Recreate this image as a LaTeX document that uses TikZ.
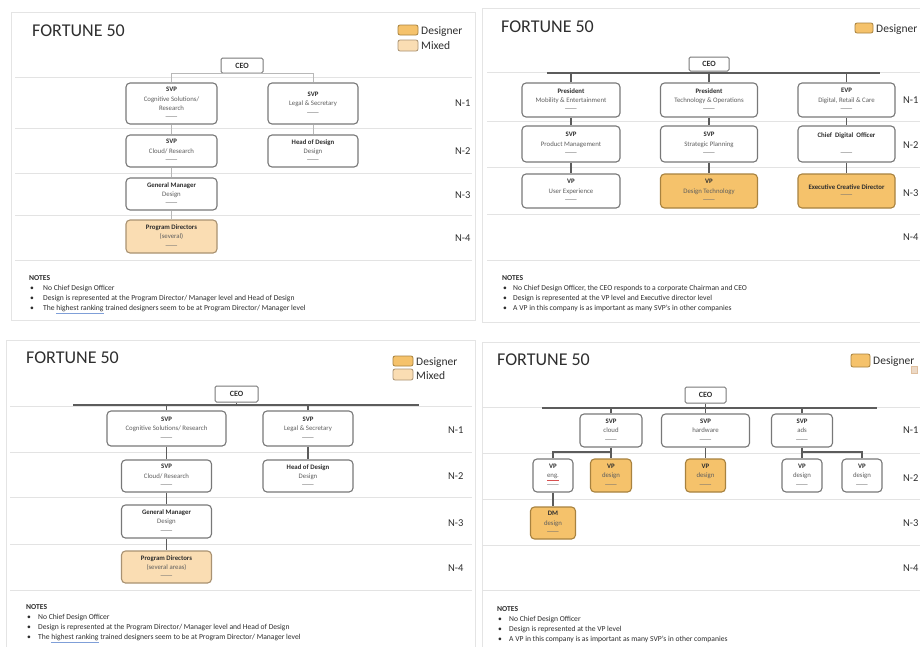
\documentclass[tikz,border=0pt]{standalone}
\usepackage{fontspec}
\usepackage{graphicx}
\setmainfont{Carlito}
\definecolor{des}{HTML}{F5C26B}
\definecolor{desb}{HTML}{A8823F}
\definecolor{mix}{HTML}{FADDB3}
\definecolor{mixb}{HTML}{A99272}
\definecolor{boxb}{HTML}{787878}
\definecolor{sepc}{HTML}{E3E3E3}
\definecolor{frm}{HTML}{E4E4E4}
\definecolor{conc}{HTML}{5C5C5C}
\definecolor{sub}{HTML}{5E5E5E}
\definecolor{phc}{HTML}{707070}
\definecolor{ulb}{HTML}{7F9FD8}
\definecolor{ulr}{HTML}{D85050}
\definecolor{txt}{HTML}{2E2E2E}
\newcommand\ph{{\color{phc}\scalebox{2.3}[1.2]{—}}}
\newcommand\sbt[1]{{\color{sub}#1}}
\newcommand\notesblk[7]{%
  \node[notes] (#1n0) at (#2,#3) {\textbf{NOTES}};
  \node[notes] (#1n1) at (#2+1,#3+10) {\makebox[#7pt][l]{•}#4};
  \node[notes] (#1n2) at (#2+1,#3+20) {\makebox[#7pt][l]{•}#5};
  \node[notes] (#1n3) at (#2+1,#3+30) {\makebox[#7pt][l]{•}#6};
}
\tikzset{
  box/.style={draw=boxb, line width=1.1pt, rounded corners=4pt, fill=white, align=center,
    font=\fontsize{6.8}{9.3}\selectfont, text=txt, inner sep=1pt},
  desbox/.style={box, fill=des, draw=desb},
  mixbox/.style={box, fill=mix, draw=mixb},
  ceo/.style={draw=boxb, line width=1pt, rounded corners=1.5pt, fill=white,
    font=\fontsize{8}{9}\selectfont\bfseries, text=txt, inner sep=0pt},
  seprule/.style={draw=sepc, line width=0.8pt},
  panelframe/.style={draw=frm, line width=0.8pt},
  conn/.style={draw=conc, line width=1.6pt},
  conthin/.style={draw=conc, line width=1.2pt},
  lconn/.style={draw=black!28, line width=0.8pt},
  ttl/.style={font=\fontsize{18}{20}\selectfont, anchor=west, inner sep=0pt, text=txt},
  lvl/.style={font=\fontsize{10.5}{12}\selectfont, anchor=west, inner sep=0pt, text=txt},
  legtxt/.style={font=\fontsize{11.5}{13}\selectfont, anchor=base west, inner sep=0pt, text=txt},
  legdes/.style={draw=desb, fill=des, rounded corners=2pt, line width=0.8pt},
  legmix/.style={draw=mixb, fill=mix, rounded corners=2pt, line width=0.8pt},
  notes/.style={font=\fontsize{7.6}{9}\selectfont, anchor=base west, inner sep=0pt, text=txt},
}
\begin{document}
\begin{tikzpicture}[x=1pt,y=-1pt]
\useasboundingbox (0,0) rectangle (920,646);
\fill[white] (0,0) rectangle (920,646);

%% ================= PANEL 1 (top left) =================
\draw[panelframe] (11,12) rectangle (475,320);
\node[ttl] (p1t) at (32,31) {FORTUNE 50};
\draw[legdes] (398,25) rectangle (418,35);
\node[legtxt] (p1l1) at (421,34) {Designer};
\draw[legmix] (398,40) rectangle (418,51);
\node[legtxt] (p1l2) at (421,49) {Mixed};
\foreach \yy in {77,128,173,215,260} \draw[seprule] (15,\yy) -- (472,\yy);
\node[ceo, minimum width=42pt, minimum height=15pt] (p1ceo) at (242,65.5) {CEO};
\node[box, minimum width=91pt, minimum height=41pt] (p1a) at (171.5,103.5) {\textbf{SVP}\\\sbt{Cognitive Solutions/}\\\sbt{Research}\\\ph};
\node[box, minimum width=90pt, minimum height=41pt] (p1b) at (313,103.5) {\textbf{SVP}\\\sbt{Legal \& Secretary}\\\ph};
\node[box, minimum width=91pt, minimum height=32pt] (p1c) at (171.5,151) {\textbf{SVP}\\\sbt{Cloud/ Research}\\\ph};
\node[box, minimum width=90pt, minimum height=32pt] (p1d) at (313,151) {\textbf{Head of Design}\\\sbt{Design}\\\ph};
\node[box, minimum width=91pt, minimum height=32pt] (p1e) at (171.5,194) {\textbf{General Manager}\\\sbt{Design}\\\ph};
\node[mixbox, minimum width=91pt, minimum height=33pt] (p1f) at (171.5,236.5) {\textbf{Program Directors}\\\sbt{(several)}\\\ph};
\draw[lconn] (p1a.north) |- (p1ceo.south) -| (p1b.north);
\draw[lconn] (p1a) -- (p1c);
\draw[lconn] (p1b) -- (p1d);
\draw[lconn] (p1c) -- (p1e);
\draw[lconn] (p1e) -- (p1f);
\node[lvl] (p1n1) at (455,103) {N-1};
\node[lvl] (p1n2) at (455,151) {N-2};
\node[lvl] (p1n3) at (455,195) {N-3};
\node[lvl] (p1n4) at (455,238) {N-4};
\notesblk{p1}{29}{280.5}{No Chief Design Officer}{Design is represented at the Program Director/ Manager level and Head of Design}{The {\color{ulb}\underline{\color{txt}highest ranking}} trained designers seem to be at Program Director/ Manager level}{13}

%% ================= PANEL 2 (top right) =================
\draw[panelframe] (482,8) rectangle (935,322);
\node[ttl] (p2t) at (501,27) {FORTUNE 50};
\draw[legdes] (855,23) rectangle (873,33);
\node[legtxt] (p2l1) at (876,32) {Designer};
\foreach \yy in {72,121,167,214,260} \draw[seprule] (487,\yy) -- (930,\yy);
\node[ceo, minimum width=40pt, minimum height=14pt] (p2ceo) at (709,64) {CEO};
\coordinate (p2l) at (547,73);
\coordinate (p2r) at (880,73);
\node[box, minimum width=98pt, minimum height=34pt] (p2a) at (571,100) {\textbf{President}\\\sbt{Mobility \& Entertainment}\\\ph};
\node[box, minimum width=97pt, minimum height=34pt] (p2b) at (709,100) {\textbf{President}\\\sbt{Technology \& Operations}\\\ph};
\node[box, minimum width=97pt, minimum height=34pt] (p2c) at (846.5,100) {\textbf{EVP}\\\sbt{Digital, Retail \& Care}\\\ph};
\node[box, minimum width=98pt, minimum height=36pt] (p2d) at (571,144) {\textbf{SVP}\\\sbt{Product Management}\\\ph};
\node[box, minimum width=97pt, minimum height=36pt] (p2e) at (709,144) {\textbf{SVP}\\\sbt{Strategic Planning}\\\ph};
\node[box, minimum width=97pt, minimum height=36pt] (p2f) at (846.5,144) {\textbf{Chief\ \ Digital\ \ Officer}\\[9.3pt]\ph};
\node[box, minimum width=98pt, minimum height=34pt] (p2g) at (571,191) {\textbf{VP}\\\sbt{User Experience}\\\ph};
\node[desbox, minimum width=97pt, minimum height=34pt] (p2h) at (709,191) {\textbf{VP}\\\sbt{Design Technology}\\\ph};
\node[desbox, minimum width=97pt, minimum height=34pt] (p2i) at (846.5,191) {\textbf{Executive Creative Director}\\[-1pt]\ph};
\draw[conn] (p2l) -- (p2r);
\draw[conn] (p2ceo.south) -- (p2ceo.south |- p2l);
\draw[conn] (p2a.north) -- (p2a.north |- p2l);
\draw[conn] (p2b.north) -- (p2b.north |- p2l);
\draw[conn] (p2c.north) -- (p2c.north |- p2l);
\draw[conn] (p2a) -- (p2d);
\draw[conn] (p2d) -- (p2g);
\draw[conn] (p2b) -- (p2e);
\draw[conn] (p2e) -- (p2h);
\draw[conn] (p2c) -- (p2f);
\draw[conn] (p2f) -- (p2i);
\node[lvl] (p2n1) at (903,100) {N-1};
\node[lvl] (p2n2) at (903,145) {N-2};
\node[lvl] (p2n3) at (903,193) {N-3};
\node[lvl] (p2n4) at (903,237) {N-4};
\notesblk{p2}{502}{280.5}{No Chief Design Officer, the CEO responds to a corporate Chairman and CEO}{Design is represented at the VP level and Executive director level}{A VP in this company is as important as many SVP’s in other companies}{10}

%% ================= PANEL 3 (bottom left) =================
\draw[panelframe] (6,340) rectangle (475,652);
\node[ttl] (p3t) at (26,358) {FORTUNE 50};
\draw[legdes] (393,356) rectangle (413,366);
\node[legtxt] (p3l1) at (416,365) {Designer};
\draw[legmix] (393,369) rectangle (413,380);
\node[legtxt] (p3l2) at (416,379) {Mixed};
\foreach \yy in {406,452,497,544,590} \draw[seprule] (10,\yy) -- (472,\yy);
\node[ceo, minimum width=43pt, minimum height=16pt] (p3ceo) at (236.5,394) {CEO};
\coordinate (p3l) at (73,405);
\coordinate (p3r) at (419,405);
\node[box, minimum width=119pt, minimum height=35pt] (p3a) at (166.5,428.5) {\textbf{SVP}\\\sbt{Cognitive Solutions/ Research}\\\ph};
\node[box, minimum width=90pt, minimum height=35pt] (p3b) at (308,428.5) {\textbf{SVP}\\\sbt{Legal \& Secretary}\\\ph};
\node[box, minimum width=90pt, minimum height=32pt] (p3c) at (166.5,476) {\textbf{SVP}\\\sbt{Cloud/ Research}\\\ph};
\node[box, minimum width=90pt, minimum height=32pt] (p3d) at (308,476) {\textbf{Head of Design}\\\sbt{Design}\\\ph};
\node[box, minimum width=90pt, minimum height=33pt] (p3e) at (166.5,521.5) {\textbf{General Manager}\\\sbt{Design}\\\ph};
\node[mixbox, minimum width=90pt, minimum height=32pt] (p3f) at (166.5,567) {\textbf{Program Directors}\\\sbt{(several areas)}\\\ph};
\draw[conn] (p3l) -- (p3r);
\draw[conthin] (p3ceo.south) -- (p3ceo.south |- p3l);
\draw[conthin] (p3a.north) -- (p3a.north |- p3l);
\draw[conthin] (p3b.north) -- (p3b.north |- p3l);
\draw[conthin] (p3a) -- (p3c);
\draw[conthin] (p3b) -- (p3d);
\draw[conthin] (p3c) -- (p3e);
\draw[conthin] (p3e) -- (p3f);
\node[lvl] (p3n1) at (448,430) {N-1};
\node[lvl] (p3n2) at (448,476) {N-2};
\node[lvl] (p3n3) at (448,523) {N-3};
\node[lvl] (p3n4) at (448,568) {N-4};
\notesblk{p3}{26}{609.5}{No Chief Design Officer}{Design is represented at the Program Director/ Manager level and Head of Design}{The {\color{ulb}\underline{\color{txt}highest ranking}} trained designers seem to be at Program Director/ Manager level}{11}

%% ================= PANEL 4 (bottom right) =================
\draw[panelframe] (482,342) rectangle (935,652);
\node[ttl] (p4t) at (497,360) {FORTUNE 50};
\draw[legdes] (851,354) rectangle (870,367);
\node[legtxt] (p4l1) at (873,364) {Designer};
\fill[fill=brown!30, draw=brown!50, line width=0.4pt] (911,366) rectangle (917,373);
\foreach \yy in {407,453,499,545,590} \draw[seprule] (482,\yy) -- (930,\yy);
\node[ceo, minimum width=41pt, minimum height=16pt] (p4ceo) at (705.5,395) {CEO};
\coordinate (p4l) at (542,408);
\coordinate (p4r) at (877,408);
\node[box, minimum width=62pt, minimum height=33pt] (p4a) at (611,430.5) {\textbf{SVP}\\\sbt{cloud}\\\ph};
\node[box, minimum width=88pt, minimum height=33pt] (p4b) at (705.5,430.5) {\textbf{SVP}\\\sbt{hardware}\\\ph};
\node[box, minimum width=61pt, minimum height=33pt] (p4c) at (802,430.5) {\textbf{SVP}\\\sbt{ads}\\\ph};
\node[box, minimum width=40pt, minimum height=33pt] (p4d) at (553,475.5) {\textbf{VP}\\\sbt{{\color{ulr}\underline{\color{sub}eng.}}}\\\ph};
\node[desbox, minimum width=41pt, minimum height=33pt] (p4e) at (611,475.5) {\textbf{VP}\\\sbt{design}\\\ph};
\node[desbox, minimum width=40pt, minimum height=33pt] (p4f) at (705.5,475.5) {\textbf{VP}\\\sbt{design}\\\ph};
\node[box, minimum width=40pt, minimum height=33pt] (p4g) at (802,475.5) {\textbf{VP}\\\sbt{design}\\\ph};
\node[box, minimum width=40pt, minimum height=33pt] (p4h) at (862,475.5) {\textbf{VP}\\\sbt{design}\\\ph};
\node[desbox, minimum width=45pt, minimum height=32pt] (p4i) at (553,523) {\textbf{DM}\\\sbt{design}\\\ph};
\coordinate (p4j1) at (611,452);
\coordinate (p4j2) at (802,452);
\draw[conn] (p4l) -- (p4r);
\draw[conthin] (p4ceo.south) -- (p4ceo.south |- p4l);
\draw[conthin] (p4a.north) -- (p4a.north |- p4l);
\draw[conthin] (p4b.north) -- (p4b.north |- p4l);
\draw[conthin] (p4c.north) -- (p4c.north |- p4l);
\draw[conthin] (p4a) -- (p4e);
\draw[conthin] (p4d.north) |- (p4j1);
\draw[conthin] (p4b) -- (p4f);
\draw[conthin] (p4c) -- (p4g);
\draw[conthin] (p4h.north) |- (p4j2);
\draw[conthin] (p4d) -- (p4i);
\node[lvl] (p4n1) at (903,430) {N-1};
\node[lvl] (p4n2) at (903,478) {N-2};
\node[lvl] (p4n3) at (903,523) {N-3};
\node[lvl] (p4n4) at (903,568) {N-4};
\notesblk{p4}{497}{611}{No Chief Design Officer}{Design is represented at the VP level}{A VP in this company is as important as many SVP’s in other companies}{11}
\end{tikzpicture}
\end{document}
